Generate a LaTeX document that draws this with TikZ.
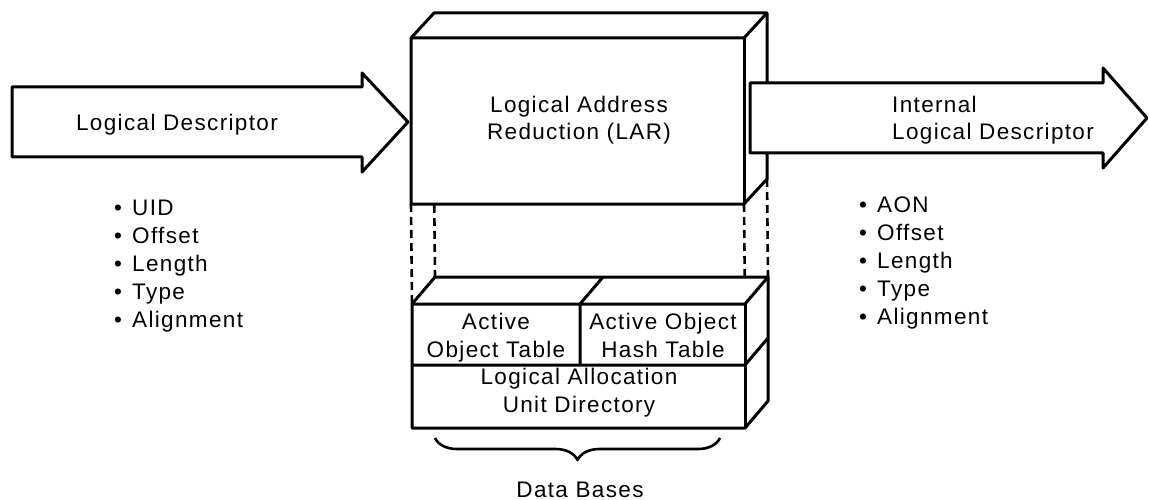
\documentclass[tikz,border=0pt]{standalone}
\usepackage{fontspec}
\setmainfont{Liberation Sans}[LetterSpace=6]
\usetikzlibrary{decorations.pathreplacing}

\begin{document}
\begin{tikzpicture}[x=1pt, y=-1pt, line join=round,
  outline/.style={line width=3pt},
  hidden/.style={line width=2.6pt, dash pattern=on 8pt off 5pt},
  txt/.style={font=\fontsize{22.5}{28}\selectfont, inner sep=0pt, align=center},
  lst/.style={txt, align=left, anchor=base west},
  bracestyle/.style={line width=2.6pt, decorate, decoration={brace, amplitude=22pt}},
]
\newcommand*{\itm}{\textbullet\hspace{0.45em}}
\useasboundingbox (0,0) rectangle (1149,500);

% corners of the LAR block
\coordinate (uA) at (411,38);  \coordinate (uB) at (744,38);
\coordinate (uC) at (744,204); \coordinate (uD) at (411,204);
\coordinate (uE) at (434,13);  \coordinate (uF) at (767,13);
\coordinate (uG) at (767,179); \coordinate (uH) at (434,179);

% corners of the data base block
\coordinate (lA) at (412,304); \coordinate (lB) at (745,304);
\coordinate (lC) at (745,428); \coordinate (lD) at (412,428);
\coordinate (lE) at (435,277); \coordinate (lF) at (768,277);
\coordinate (lG) at (768,401);
\coordinate (lM1) at (412,365); \coordinate (lM2) at (745,365);
\coordinate (lM3) at (768,338);
\coordinate (lT1) at (580,304); \coordinate (lT2) at (603,277);
\coordinate (lT3) at (580,365);

% hidden edges joining the two blocks
\draw[hidden] (uD) -- (lA);
\draw[hidden] (uH) -- (lE);
\draw[hidden] (uC) -- (lB);
\draw[hidden] (uG) -- (lF);

% LAR block
\draw[outline, fill=white] (uA) -- (uE) -- (uF) -- (uG) -- (uC) -- (uD) -- cycle;
\draw[outline] (uA) -- (uB) -- (uF);
\draw[outline] (uB) -- (uC);

% data base block
\draw[outline, fill=white] (lA) -- (lE) -- (lF) -- (lG) -- (lC) -- (lD) -- cycle;
\draw[outline] (lA) -- (lB) -- (lF);
\draw[outline] (lB) -- (lC);
\draw[outline] (lM1) -- (lM2) -- (lM3);
\draw[outline] (lT2) -- (lT1) -- (lT3);

% output arrow
\draw[outline, fill=white] (750,83) -- (1103,83) -- (1103,68) -- (1147,118)
  -- (1103,168) -- (1103,153) -- (750,153) -- cycle;
% input arrow
\draw[outline, fill=white] (12,87) -- (362,87) -- (362,73) -- (408,122)
  -- (362,172) -- (362,157) -- (12,157) -- cycle;

% texts (for two-line texts the base anchor sits on the last line)
\node[txt, anchor=base] (ld) at (177,131) {Logical Descriptor};
\node[txt, anchor=base] (lar) at (579,140) {Logical Address\\Reduction (LAR)};
\node[txt, align=left, anchor=base west] (ild) at (892,140) {Internal\\Logical Descriptor};
\node[txt, anchor=base] (aot) at (496,357) {Active\\Object Table};
\node[txt, anchor=base] (aoht) at (663,357) {Active Object\\Hash Table};
\node[txt, anchor=base] (laud) at (579,412) {Logical Allocation\\Unit Directory};

\node[lst] (inlist) at (114,327) {\itm UID\\\itm Offset\\\itm Length\\\itm Type\\\itm Alignment};
\node[lst] (outlist) at (859,324) {\itm AON\\\itm Offset\\\itm Length\\\itm Type\\\itm Alignment};

% brace under the data bases
\coordinate (br) at (720,438);
\coordinate (bl) at (435,438);
\draw[bracestyle] (br) -- (bl);
\node[txt, anchor=base] (db) at (580,497) {Data Bases};
\end{tikzpicture}
\end{document}
